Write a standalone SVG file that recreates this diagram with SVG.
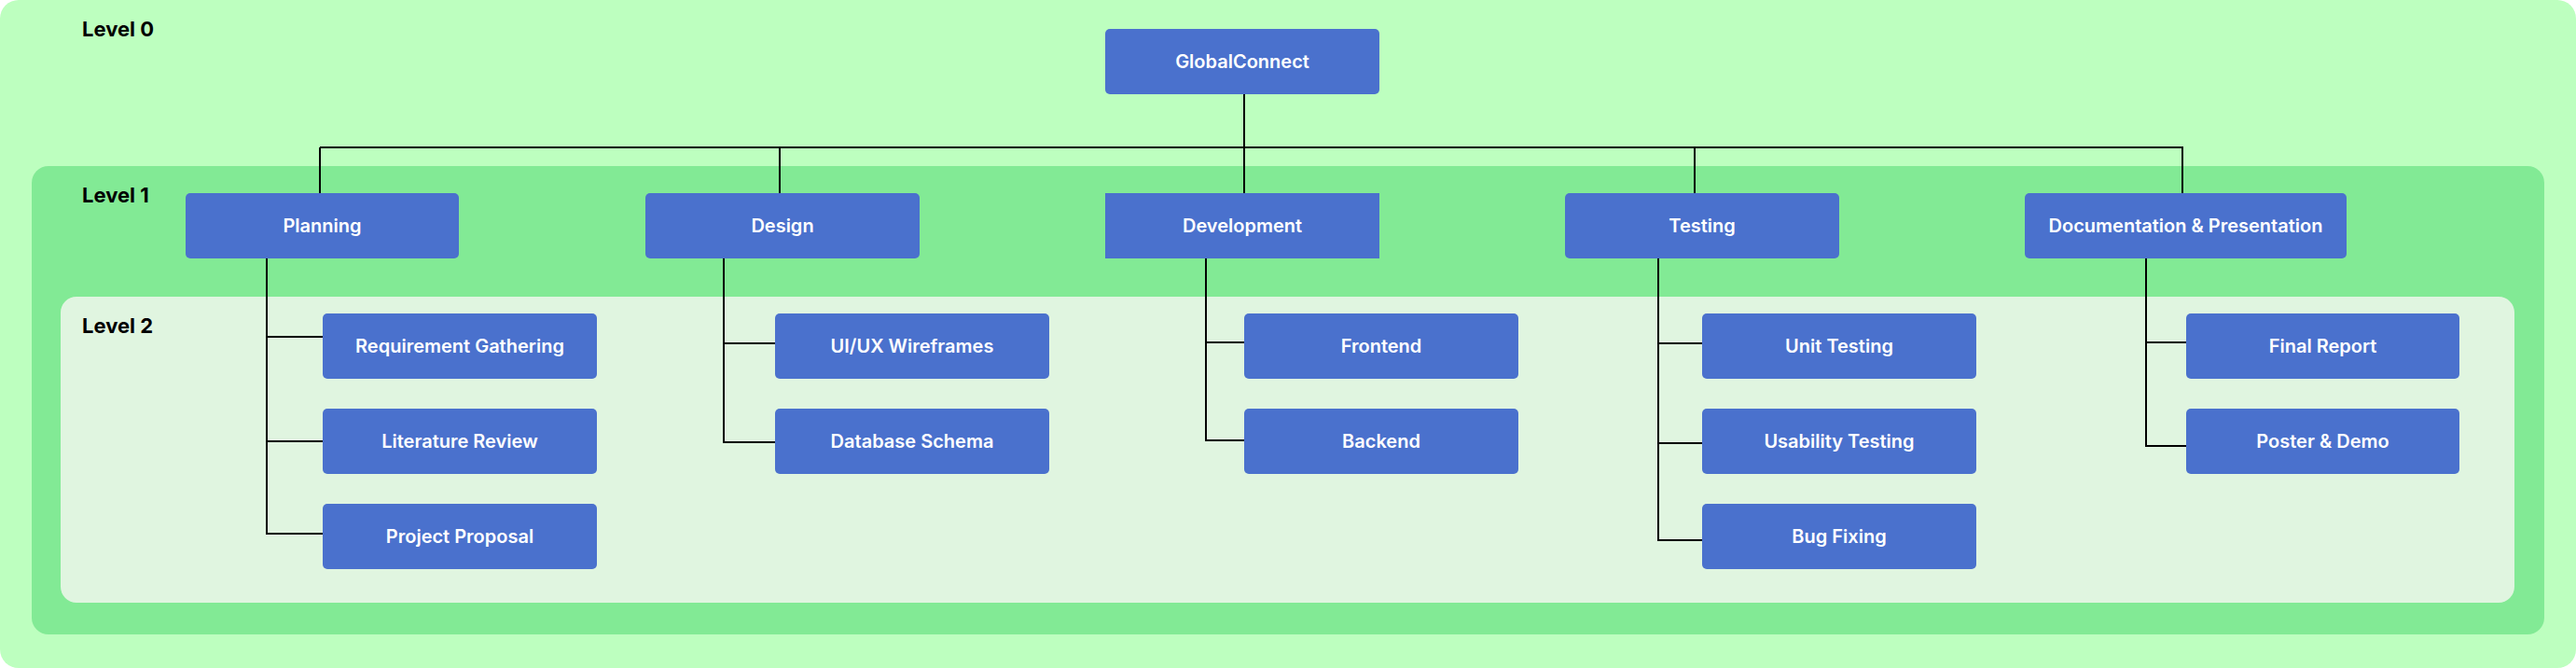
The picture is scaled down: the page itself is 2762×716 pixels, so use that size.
<svg xmlns="http://www.w3.org/2000/svg" width="2762" height="716" viewBox="0 0 2762 716">
<style>
.node rect{fill:#4A71CD;}
.node text{fill:#FFFFFF;font-family:Inter,"Liberation Sans",sans-serif;font-weight:600;font-size:20px;text-anchor:middle;}
.lvl{fill:#000000;font-family:Inter,"Liberation Sans",sans-serif;font-weight:700;font-size:22px;}
.conn line,.conn polyline{stroke:#000000;stroke-width:2;fill:none;}
</style>
<g id="bands">
<rect x="0" y="0" width="2762" height="716" rx="20" fill="#BDFFBF"/>
<rect x="34" y="178" width="2694" height="502" rx="18" fill="#82EA95"/>
<rect x="65" y="318" width="2631" height="328" rx="17" fill="#E0F5E0"/>
<text class="lvl" x="88" y="39">Level 0</text>
<text class="lvl" x="88" y="217">Level 1</text>
<text class="lvl" x="88" y="357">Level 2</text>
</g>
<g id="connectors" class="conn">
<line x1="343" y1="158" x2="2341" y2="158"/>
<line x1="1334" y1="101" x2="1334" y2="207"/>
<line x1="343" y1="158" x2="343" y2="207"/>
<line x1="836" y1="158" x2="836" y2="207"/>
<line x1="1817" y1="158" x2="1817" y2="207"/>
<line x1="2340" y1="158" x2="2340" y2="207"/>
<polyline points="286,277 286,572 346,572"/>
<line x1="286" y1="361" x2="346" y2="361"/>
<line x1="286" y1="473" x2="346" y2="473"/>
<polyline points="776,277 776,474 833,474"/>
<line x1="776" y1="368" x2="833" y2="368"/>
<polyline points="1293,277 1293,472 1336,472"/>
<line x1="1293" y1="367" x2="1336" y2="367"/>
<polyline points="1778,277 1778,579 1827,579"/>
<line x1="1778" y1="368" x2="1827" y2="368"/>
<line x1="1778" y1="475" x2="1827" y2="475"/>
<polyline points="2301,277 2301,478 2346,478"/>
<line x1="2301" y1="367" x2="2346" y2="367"/>
</g>
<g id="n-globalconnect" class="node"><rect x="1185" y="31" width="294" height="70" rx="5"/><text x="1332" y="73">GlobalConnect</text></g>
<g id="n-planning" class="node"><rect x="199" y="207" width="293" height="70" rx="5"/><text x="345.5" y="249">Planning</text></g>
<g id="n-design" class="node"><rect x="692" y="207" width="294" height="70" rx="5"/><text x="839" y="249">Design</text></g>
<g id="n-development" class="node"><rect x="1185" y="207" width="294" height="70"/><text x="1332" y="249">Development</text></g>
<g id="n-testing" class="node"><rect x="1678" y="207" width="294" height="70" rx="5"/><text x="1825" y="249">Testing</text></g>
<g id="n-documentation" class="node"><rect x="2171" y="207" width="345" height="70" rx="5"/><text x="2343.5" y="249">Documentation &amp; Presentation</text></g>
<g id="n-requirement" class="node"><rect x="346" y="336" width="294" height="70" rx="5"/><text x="493" y="378">Requirement Gathering</text></g>
<g id="n-literature" class="node"><rect x="346" y="438" width="294" height="70" rx="5"/><text x="493" y="480">Literature Review</text></g>
<g id="n-proposal" class="node"><rect x="346" y="540" width="294" height="70" rx="5"/><text x="493" y="582">Project Proposal</text></g>
<g id="n-uiux" class="node"><rect x="831" y="336" width="294" height="70" rx="5"/><text x="978" y="378">UI/UX Wireframes</text></g>
<g id="n-database" class="node"><rect x="831" y="438" width="294" height="70" rx="5"/><text x="978" y="480">Database Schema</text></g>
<g id="n-frontend" class="node"><rect x="1334" y="336" width="294" height="70" rx="5"/><text x="1481" y="378">Frontend</text></g>
<g id="n-backend" class="node"><rect x="1334" y="438" width="294" height="70" rx="5"/><text x="1481" y="480">Backend</text></g>
<g id="n-unit" class="node"><rect x="1825" y="336" width="294" height="70" rx="5"/><text x="1972" y="378">Unit Testing</text></g>
<g id="n-usability" class="node"><rect x="1825" y="438" width="294" height="70" rx="5"/><text x="1972" y="480">Usability Testing</text></g>
<g id="n-bugfixing" class="node"><rect x="1825" y="540" width="294" height="70" rx="5"/><text x="1972" y="582">Bug Fixing</text></g>
<g id="n-finalreport" class="node"><rect x="2344" y="336" width="293" height="70" rx="5"/><text x="2490.5" y="378">Final Report</text></g>
<g id="n-poster" class="node"><rect x="2344" y="438" width="293" height="70" rx="5"/><text x="2490.5" y="480">Poster &amp; Demo</text></g>
</svg>
